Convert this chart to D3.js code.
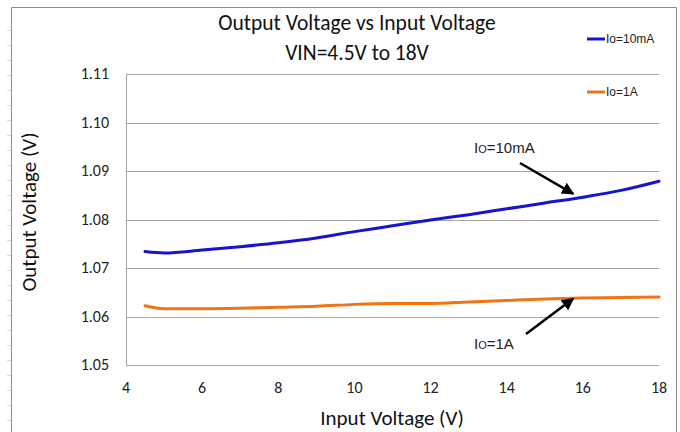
<!DOCTYPE html>
<html>
<head>
<meta charset="utf-8">
<script src="https://cdn.jsdelivr.net/npm/d3@7"></script>
<style>
    body { margin: 0; background: #fff; }
    svg { display: block; }
    .grid line { stroke: #a6a6a6; stroke-width: 1; }
    .tick-label { font-family: Carlito, Lato, 'Open Sans', sans-serif; font-size: 16px; fill: #222; }
    .title { font-family: Carlito, Lato, 'Open Sans', sans-serif; font-size: 21.5px; fill: #111; }
    .axis-title { font-family: Carlito, Lato, 'Open Sans', sans-serif; font-size: 21px; fill: #111; }
    .legend-label { font-family: 'Liberation Sans', Arial, sans-serif; font-size: 12px; fill: #222; }
    .note { font-family: 'Liberation Sans', Arial, sans-serif; font-size: 15px; fill: #222; }
</style>
</head>
<body>
<div id="dataChart"></div>
<script>
const inputVoltage = [4.5, 5, 6, 7, 8, 9, 10, 11, 12, 13, 14, 15, 16, 17, 18]
const vout10mA = [1.0734, 1.0731, 1.0737, 1.0744, 1.0752, 1.0762, 1.0775, 1.0787, 1.0799, 1.0810, 1.0822, 1.0834, 1.0846, 1.0860, 1.0879]
const vout1A = [1.0622, 1.0616, 1.0616, 1.0617, 1.0619, 1.0621, 1.0625, 1.0627, 1.0627, 1.0630, 1.0633, 1.0636, 1.0638, 1.0639, 1.0640]
const xTicks = [4, 6, 8, 10, 12, 14, 16, 18]
const yTicks = [1.05, 1.06, 1.07, 1.08, 1.09, 1.10, 1.11]
const seriesNames = ['10mA', '1A']
const seriesColours = ['#1414d2', '#ee7418']

document.addEventListener('DOMContentLoaded', () => {
    draw()
});

function draw() {
    const viewBoxWidth = 680
    const viewBoxHeight = 432

    const svg = d3.select('#dataChart')
        .append('svg')
        .attr('width', viewBoxWidth)
        .attr('height', viewBoxHeight)
        .attr('viewBox', [0, 0, viewBoxWidth, viewBoxHeight])

    // outer frame, like the sheet border
    svg.append('path')
        .attr('d', 'M11.5,432 V7.5 H676.5 V432')
        .attr('fill', 'none')
        .attr('stroke', '#8c8c8c')
    svg.append('g')
        .selectAll('line')
        .data(d3.range(30, 432, 15))
        .enter()
        .append('line')
        .attr('x1', 7).attr('x2', 11)
        .attr('y1', d => d + 0.5).attr('y2', d => d + 0.5)
        .attr('stroke', '#dcdcdc')

    const x = d3.scaleLinear().domain([4, 18]).range([126, 659])
    const y = d3.scaleLinear().domain([1.05, 1.11]).range([365, 74])

    // gridlines
    svg.append('g')
        .attr('class', 'grid')
        .selectAll('line')
        .data(yTicks)
        .enter()
        .append('line')
        .attr('x1', x(4))
        .attr('x2', x(18))
        .attr('y1', d => Math.round(y(d)) + 0.5)
        .attr('y2', d => Math.round(y(d)) + 0.5)
    svg.append('line')
        .attr('x1', x(4) + 0.5).attr('x2', x(4) + 0.5)
        .attr('y1', y(1.11)).attr('y2', y(1.05) + 1)
        .attr('stroke', '#a6a6a6')

    // tick labels
    svg.append('g')
        .selectAll('text')
        .data(yTicks)
        .enter()
        .append('text')
        .attr('class', 'tick-label')
        .attr('x', 109)
        .attr('y', d => y(d) + 5)
        .attr('text-anchor', 'end')
        .text(d => d3.format('.2f')(d))
    svg.append('g')
        .selectAll('text')
        .data(xTicks)
        .enter()
        .append('text')
        .attr('class', 'tick-label')
        .attr('x', d => x(d))
        .attr('y', 393)
        .attr('text-anchor', 'middle')
        .text(d => d)

    // titles
    svg.append('text')
        .attr('class', 'title')
        .attr('x', 357).attr('y', 30)
        .attr('text-anchor', 'middle')
        .text('Output Voltage vs Input Voltage')
    svg.append('text')
        .attr('class', 'title')
        .attr('x', 357).attr('y', 60)
        .attr('text-anchor', 'middle')
        .text('VIN=4.5V to 18V')
    svg.append('text')
        .attr('class', 'axis-title')
        .attr('x', 392).attr('y', 425)
        .attr('text-anchor', 'middle')
        .text('Input Voltage (V)')
    svg.append('text')
        .attr('class', 'axis-title')
        .attr('transform', 'translate(36, 212) rotate(-90)')
        .attr('text-anchor', 'middle')
        .text('Output Voltage (V)')

    // series
    const series = [vout10mA, vout1A].map((values, i) => ({
        name: seriesNames[i],
        colour: seriesColours[i],
        points: inputVoltage.map((v, j) => [v, values[j]])
    }))
    const line = d3.line()
        .x(d => x(d[0]))
        .y(d => y(d[1]))
        .curve(d3.curveMonotoneX)
    svg.append('g')
        .selectAll('path')
        .data(series)
        .enter()
        .append('path')
        .attr('d', d => line(d.points))
        .attr('fill', 'none')
        .attr('stroke', d => d.colour)
        .attr('stroke-width', 3)
        .attr('stroke-linecap', 'round')

    // legend
    const legendY = [39, 92]
    const legendEntry = svg.append('g')
        .selectAll('g')
        .data(series)
        .enter()
        .append('g')
        .attr('transform', (d, i) => `translate(587, ${legendY[i]})`)
    legendEntry.append('line')
        .attr('x1', 0).attr('x2', 18)
        .attr('stroke', d => d.colour)
        .attr('stroke-width', 3)
    legendEntry.append('text')
        .attr('class', 'legend-label')
        .attr('x', 19)
        .attr('y', 4)
        .text(d => 'Io=' + d.name)

    // callouts with arrows
    svg.append('defs')
        .append('marker')
        .attr('id', 'arrow')
        .attr('viewBox', '0 0 10 10')
        .attr('refX', 9).attr('refY', 5)
        .attr('markerWidth', 5).attr('markerHeight', 5)
        .attr('orient', 'auto')
        .append('path')
        .attr('d', 'M0,0 L10,5 L0,10 z')
        .attr('fill', '#000')

    const callouts = [
        { label: '10mA', tip: [15.75, 1.0853], from: [520, 163], text: [474, 153] },
        { label: '1A', tip: [15.75, 1.0637], from: [526, 334], text: [474, 349] }
    ]
    for (const c of callouts) {
        svg.append('line')
            .attr('x1', c.from[0]).attr('y1', c.from[1])
            .attr('x2', x(c.tip[0])).attr('y2', y(c.tip[1]))
            .attr('stroke', '#000')
            .attr('stroke-width', 2.5)
            .attr('marker-end', 'url(#arrow)')
        const t = svg.append('text')
            .attr('class', 'note')
            .attr('x', c.text[0]).attr('y', c.text[1])
        t.append('tspan').text('I')
        t.append('tspan').attr('font-size', '11px').text('O')
        t.append('tspan').text('=' + c.label)
    }
}
</script>
</body>
</html>
